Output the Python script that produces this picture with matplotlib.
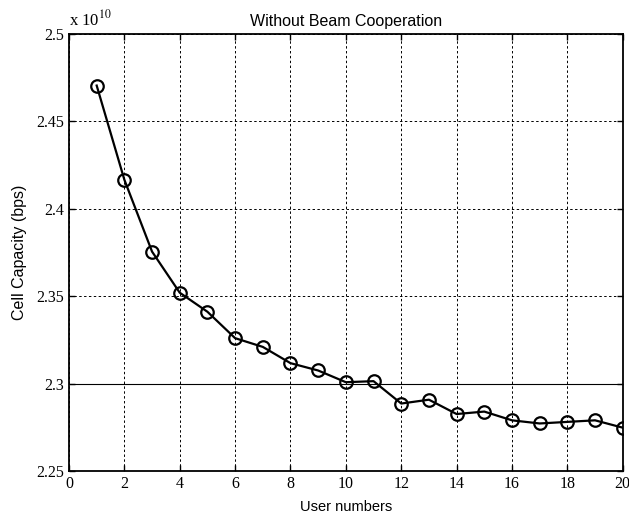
import numpy as np
import matplotlib
matplotlib.use('Agg')
import matplotlib.pyplot as plt

# Cell capacity per number of users (values in units of 1e10 bps)
users = np.arange(1, 21)
capacity = [2.4705, 2.4166, 2.3755, 2.3520, 2.3411, 2.3260, 2.3210, 2.3117, 2.3075, 2.3008,
            2.3014, 2.2886, 2.2908, 2.2826, 2.2840, 2.2790, 2.2772, 2.2781, 2.2790, 2.2748]

xticks = np.arange(0, 21, 2)
yticks = [2.25, 2.3, 2.35, 2.4, 2.45, 2.5]
yticklabels = ['2.25', '2.3', '2.35', '2.4', '2.45', '2.5']

fig = plt.figure(figsize=(6.29, 5.18), dpi=100)
ax = fig.add_axes([0.1097, 0.0907, 0.8803, 0.8437])

ax.plot(users, capacity, color='black', linewidth=1.6, marker='o', markersize=9,
        markerfacecolor='none', markeredgecolor='black', markeredgewidth=1.6, zorder=3)

ax.set_xlim(0, 20)
ax.set_ylim(2.25, 2.5)
ax.set_xticks(xticks)
ax.set_yticks(yticks)
ax.set_yticklabels(yticklabels)
ax.grid(True, color='black', linestyle=(0, (2.5, 2.5)), linewidth=0.7)
ax.axhline(2.3, color='black', linewidth=0.8, zorder=2)

ax.tick_params(direction='in', top=True, right=True, length=4, width=1)
for lab in ax.get_xticklabels() + ax.get_yticklabels():
    lab.set_fontfamily('Liberation Serif')
    lab.set_fontsize(11.5)
for s in ax.spines.values():
    s.set_linewidth(1.3)

ax.set_title('Without Beam Cooperation', fontfamily='Liberation Sans', fontsize=11.5, pad=6)
ax.set_xlabel('User numbers', fontfamily='Liberation Sans', fontsize=10.5, labelpad=6)
ax.set_ylabel('Cell Capacity (bps)', fontfamily='Liberation Sans', fontsize=11.5, labelpad=7)
fig.text(0.110, 0.951, r'x 10$^{10}$', fontfamily='Liberation Serif', fontsize=12,
         math_fontfamily='stix')

fig.savefig('out.png', dpi=100, facecolor='white')
